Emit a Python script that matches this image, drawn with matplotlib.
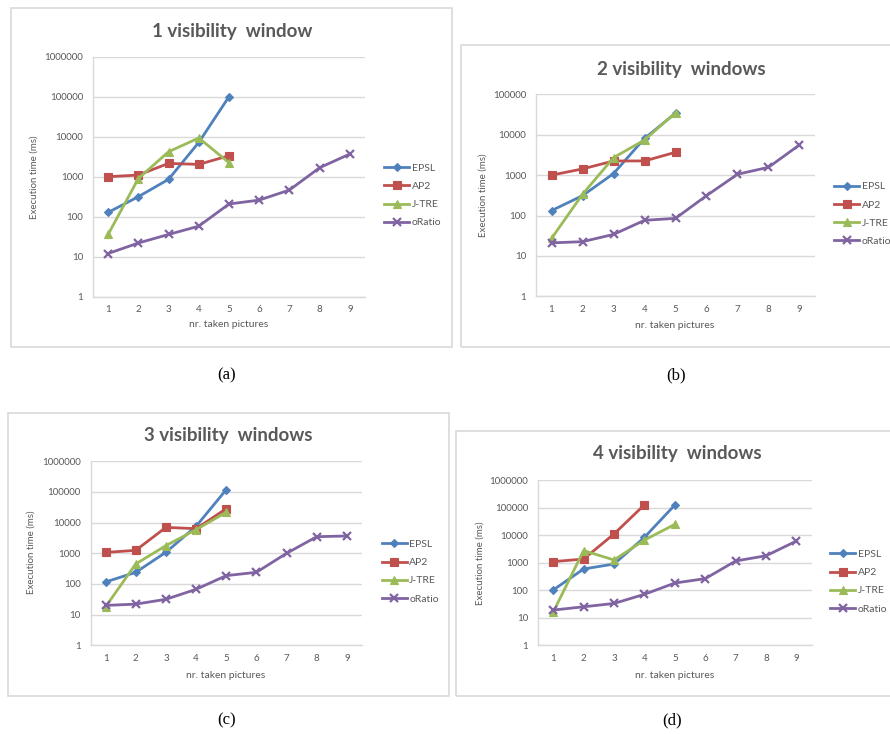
import matplotlib
matplotlib.use("Agg")
import matplotlib.pyplot as plt
from matplotlib.patches import Rectangle
from matplotlib.ticker import FixedLocator, FuncFormatter, NullLocator

plt.rcParams['font.family'] = ['Lato', 'DejaVu Sans']

W, H = 890, 734

x_all = [1, 2, 3, 4, 5, 6, 7, 8, 9]
series_names = ["EPSL", "AP2", "J-TRE", "oRatio"]
titles = ["1 visibility  window", "2 visibility  windows",
          "3 visibility  windows", "4 visibility  windows"]
captions = ["(a)", "(b)", "(c)", "(d)"]

# panel (a)
EPSL_a = [128, 316, 860, 7200, 100000]
AP2_a = [1000, 1100, 2150, 2030, 3350]
JTRE_a = [36, 900, 4200, 9300, 2240]
oRatio_a = [12, 22, 36, 58, 208, 260, 465, 1680, 3700]
# panel (b)
EPSL_b = [132, 310, 1090, 8100, 34000]
AP2_b = [1000, 1420, 2240, 2240, 3670]
JTRE_b = [27, 335, 2700, 7400, 35000]
oRatio_b = [21, 22.5, 34, 76, 85, 310, 1050, 1560, 5600]
# panel (c)
EPSL_c = [116, 240, 1080, 7600, 119000]
AP2_c = [1070, 1250, 7000, 6350, 28500]
JTRE_c = [18, 450, 1780, 5900, 21800]
oRatio_c = [20, 22, 31.6, 67, 187, 240, 1000, 3480, 3670]
# panel (d)
EPSL_d = [102, 590, 890, 8300, 124000]
AP2_d = [1090, 1350, 11000, 126000]
JTRE_d = [16, 2740, 1250, 6600, 24500]
oRatio_d = [19, 25, 33, 71, 182, 263, 1150, 1780, 6100]

ymax_list = [1e6, 1e5, 1e6, 1e6]

panels_data = [
    [EPSL_a, AP2_a, JTRE_a, oRatio_a],
    [EPSL_b, AP2_b, JTRE_b, oRatio_b],
    [EPSL_c, AP2_c, JTRE_c, oRatio_c],
    [EPSL_d, AP2_d, JTRE_d, oRatio_d],
]

colors = ["#4F81BD", "#C0504D", "#9BBB59", "#8064A2"]
markers = ["D", "s", "^", "x"]
msizes = [4.2, 6.0, 6.0, 5.5]

# layout (pixels)
boxes = [(11, 8, 452, 347), (461, 45, 892, 347), (8, 413, 449, 696), (456, 431, 892, 696)]
axes_px = [(93, 56.7, 365, 296.7), (536, 94.3, 815, 296.3),
           (90.5, 461.3, 362, 645.3), (538, 480, 811.7, 645.3)]
title_px = [(232, 31), (681, 69), (228, 435), (677, 454)]
ylabel_px = [(34, 177), (483, 195), (31, 552), (480, 563)]
xlabel_px = [(229, 325), (675, 326), (226, 675), (675, 675)]
legend_px = [(384, 195.5), (834, 214), (381.7, 571.7), (830, 581.7)]
caption_px = [(227, 375), (676, 375), (227, 720), (672, 720)]

fig = plt.figure(figsize=(W / 100, H / 100), dpi=100)
fig.patch.set_facecolor("white")

def fx(px):
    return px / W

def fy(py):
    return 1 - py / H

txt = "#595959"
grid_c = "#D9D9D9"

for i in range(4):
    bl, bt, br, bb = boxes[i]
    fig.patches.append(Rectangle((fx(bl), fy(bb)), fx(br - bl), (bb - bt) / H,
                                 transform=fig.transFigure, fill=False,
                                 edgecolor=grid_c, lw=1.2, zorder=0))
    l, t, r, b = axes_px[i]
    ax = fig.add_axes([fx(l), fy(b), fx(r - l), (b - t) / H])
    ax.set_yscale("log")
    ax.set_xlim(0.5, 9.5)
    ax.set_ylim(1, ymax_list[i])
    decades = []
    v = 1
    while v <= ymax_list[i] * 1.01:
        decades.append(v)
        v *= 10
    ax.yaxis.set_major_locator(FixedLocator(decades))
    ax.yaxis.set_minor_locator(NullLocator())
    ax.yaxis.set_major_formatter(FuncFormatter(lambda val, pos: f"{int(round(val))}"))
    ax.set_xticks(x_all)
    ax.set_xticklabels([str(v) for v in x_all])
    ax.tick_params(axis="both", length=0, labelsize=7, labelcolor=txt)
    ax.tick_params(axis="y", pad=7)
    ax.tick_params(axis="x", pad=6)
    ax.grid(axis="y", color=grid_c, lw=1.0)
    ax.set_axisbelow(True)
    for s in ["top", "right"]:
        ax.spines[s].set_visible(False)
    for s in ["left", "bottom"]:
        ax.spines[s].set_color(grid_c)
        ax.spines[s].set_linewidth(1.0)
    for k, (name, vals) in enumerate(zip(series_names, panels_data[i])):
        xs = x_all[:len(vals)]
        mew = 1.6 if markers[k] == "x" else 0.8
        ax.plot(xs, vals, color=colors[k], lw=2.0, marker=markers[k],
                markersize=msizes[k], markeredgewidth=mew,
                markeredgecolor=colors[k], markerfacecolor=colors[k],
                label=name, clip_on=False, zorder=3 + k)
    lx, ly = legend_px[i]
    ax.legend(loc="center left", bbox_to_anchor=(fx(lx), fy(ly)),
              bbox_transform=fig.transFigure, frameon=False, fontsize=7.5,
              handlelength=2.4, handletextpad=0.25, labelspacing=0.85,
              borderpad=0, borderaxespad=0, labelcolor=txt)
    tx, ty = title_px[i]
    fig.text(fx(tx), fy(ty), titles[i], ha="center", va="center",
             fontsize=13.5, fontweight="bold", color=txt)
    yx, yy = ylabel_px[i]
    fig.text(fx(yx), fy(yy), "Execution time (ms)", ha="center", va="center",
             rotation=90, fontsize=7, color=txt)
    xx, xy = xlabel_px[i]
    fig.text(fx(xx), fy(xy), "nr. taken pictures", ha="center", va="center",
             fontsize=7.5, color=txt)
    cx, cy = caption_px[i]
    fig.text(fx(cx), fy(cy), captions[i], ha="center", va="center",
             fontsize=12, color="black", family="Liberation Serif")

fig.savefig("out.png", dpi=100, facecolor="white")
